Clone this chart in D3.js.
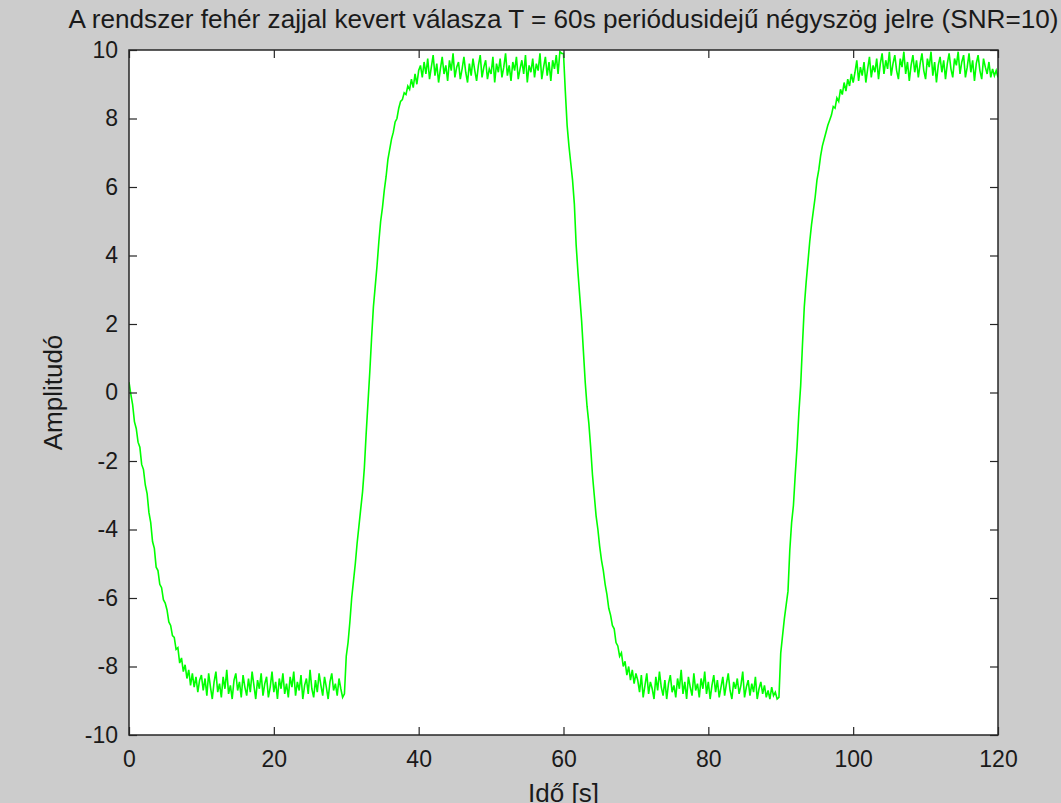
<!DOCTYPE html>
<html>
<head>
<meta charset="utf-8">
<script src="https://cdn.jsdelivr.net/npm/d3@7"></script>
<style>
  html, body { margin: 0; padding: 0; background: #cccccc; overflow: hidden; }
  text { font-family: "Liberation Sans", Arial, sans-serif; fill: #1a1a1a; }
</style>
</head>
<body>
<div id="chart"></div>
<script>
// chart texts
const titleText = "A rendszer fehér zajjal kevert válasza T = 60s periódusidejű négyszög jelre (SNR=10)";
const xLabel = "Idő [s]";
const yLabel = "Amplitudó";

// ticks
const xTicks = [0, 20, 40, 60, 80, 100, 120];
const yTicks = [-10, -8, -6, -4, -2, 0, 2, 4, 6, 8, 10];

// samples, every 0.25 s, one array per half period
const sampleStep = 0.25;
const segStarts = [0, 30, 60, 90];

// 0 .. 29.75 s : decay from 0.3 to the low level
const seg1 = [
  0.30, -0.05, -0.35, -0.85, -1.05, -1.45, -1.60, -2.10, -2.25, -2.70,
  -2.95, -3.50, -3.80, -4.35, -4.55, -5.10, -5.20, -5.60, -5.70, -6.05,
  -6.15, -6.35, -6.70, -6.80, -7.10, -7.15, -7.50, -7.45, -7.90, -7.75,
  -8.15, -7.95, -8.35, -8.10, -8.55, -8.20, -8.60, -8.30, -8.75, -8.40,
  -8.25,
  -8.70, -8.35, -8.85, -8.20, -8.60, -8.95, -8.45, -8.15, -8.75, -8.50,
  -8.90, -8.30, -8.65, -8.10, -8.80, -8.55, -8.95, -8.40, -8.20, -8.70,
  -8.45, -8.90, -8.25, -8.60, -8.85, -8.35, -8.75, -8.15, -8.55, -8.95,
  -8.40, -8.65, -8.20, -8.85, -8.50, -8.30, -8.90, -8.60, -8.15, -8.75,
  -8.45, -8.95, -8.35, -8.65, -8.20, -8.80, -8.50, -8.90, -8.30, -8.60,
  -8.15, -8.85, -8.45, -8.70, -8.25, -8.95, -8.55, -8.35, -8.80, -8.10,
  -8.65, -8.90, -8.40, -8.75, -8.20, -8.55, -8.85, -8.30, -8.60, -8.95,
  -8.45, -8.20, -8.70, -8.50, -8.85, -8.35, -8.65, -8.90, -8.80
];

// 30 .. 59.75 s : rise to the high level
const seg2 = [
  -7.70, -7.30, -6.70, -6.00, -5.50, -5.00, -4.40, -3.90, -3.40, -2.90,
  -2.20, -1.20, -0.30, 0.60, 1.60, 2.50, 3.10, 3.70, 4.40, 5.00,
  5.40, 5.90, 6.30, 6.80, 7.10, 7.40, 7.60, 7.90, 8.00, 8.30,
  8.50, 8.55, 8.75, 8.70, 8.95, 8.85, 9.15, 8.90, 9.30, 9.00,
  9.40,
  9.55, 9.20, 9.65, 9.30, 9.75, 9.15, 9.50, 9.85, 9.25, 9.60,
  9.05, 9.45, 9.80, 9.30, 9.55, 9.10, 9.70, 9.40, 9.90, 9.20,
  9.50, 9.65, 9.15, 9.45, 9.80, 9.35, 9.05, 9.60, 9.25, 9.75,
  9.40, 9.10, 9.55, 9.85, 9.20, 9.50, 9.70, 9.15, 9.45, 9.30,
  9.80, 9.05, 9.60, 9.35, 9.75, 9.20, 9.50, 9.90, 9.25, 9.55,
  9.10, 9.65, 9.40, 9.80, 9.15, 9.45, 9.70, 9.30, 9.85, 9.05,
  9.55, 9.35, 9.75, 9.20, 9.60, 9.40, 9.90, 9.15, 9.50, 9.80,
  9.25, 9.65, 9.10, 9.70, 9.45, 9.85, 9.30, 9.95, 9.90
];

// 60 .. 89.75 s : fall to the low level
const seg3 = [
  9.90, 8.80, 7.80, 7.20, 6.70, 6.20, 5.50, 4.30, 3.50, 2.80,
  2.10, 1.20, 0.30, -0.40, -0.90, -1.60, -2.40, -3.00, -3.60, -4.00,
  -4.50, -4.90, -5.20, -5.60, -5.90, -6.30, -6.50, -6.80, -6.90, -7.30,
  -7.40, -7.70, -7.60, -8.00, -7.85, -8.25, -8.00, -8.40, -8.10, -8.50,
  -8.20,
  -8.40, -8.75, -8.25, -8.90, -8.55, -8.20, -8.80, -8.45, -8.65, -8.95,
  -8.30, -8.70, -8.15, -8.60, -8.85, -8.40, -8.95, -8.50, -8.25, -8.75,
  -8.55, -8.90, -8.35, -8.65, -8.10, -8.80, -8.45, -8.95, -8.30, -8.60,
  -8.85, -8.20, -8.70, -8.50, -8.90, -8.35, -8.65, -8.15, -8.80, -8.45,
  -8.95, -8.55, -8.25, -8.75, -8.40, -8.90, -8.60, -8.30, -8.85, -8.50,
  -8.20, -8.70, -8.95, -8.45, -8.65, -8.35, -8.80, -8.55, -8.15, -8.90,
  -8.60, -8.40, -8.85, -8.50, -8.75, -8.30, -8.95, -8.65, -8.45, -8.80,
  -8.55, -8.90, -8.70, -8.95, -8.60, -8.85, -8.75, -8.95, -8.90
];

// 90 .. 120 s : rise to the high level
const seg4 = [
  -7.60, -7.10, -6.60, -6.20, -5.80, -4.60, -3.80, -3.30, -2.40, -1.60,
  -0.60, 0.20, 1.40, 2.50, 3.20, 3.80, 4.40, 4.90, 5.30, 5.70,
  6.20, 6.50, 6.90, 7.20, 7.40, 7.60, 7.80, 7.95, 8.10, 8.35,
  8.30, 8.60, 8.50, 8.85, 8.70, 9.05, 8.80, 9.15, 8.95, 9.30,
  9.05,
  9.35, 9.70, 9.10, 9.50, 9.25, 9.65, 9.05, 9.45, 9.80, 9.20,
  9.55, 9.35, 9.75, 9.15, 9.60, 9.90, 9.30, 9.70, 9.45, 9.95,
  9.25, 9.60, 9.85, 9.40, 9.15, 9.75, 9.50, 9.95, 9.30, 9.65,
  9.10, 9.55, 9.85, 9.35, 9.70, 9.20, 9.60, 9.90, 9.40, 9.15,
  9.75, 9.50, 9.95, 9.25, 9.65, 9.05, 9.55, 9.80, 9.35, 9.70,
  9.15, 9.60, 9.90, 9.45, 9.20, 9.75, 9.55, 9.95, 9.30, 9.65,
  9.85, 9.20, 9.50, 9.90, 9.35, 9.70, 9.10, 9.60, 9.85, 9.40,
  9.15, 9.75, 9.50, 9.30, 9.65, 9.20, 9.45, 9.25, 9.40, 9.20
];

const W = 1061, H = 803;
const margin = {top: 50, right: 63, bottom: 68, left: 129};
const width = W - margin.left - margin.right,   // 869
      height = H - margin.top - margin.bottom;  // 685

const svg = d3.select("#chart").append("svg")
    .attr("width", W)
    .attr("height", H)
    .style("display", "block");

svg.append("rect").attr("width", W).attr("height", H).attr("fill", "#cccccc");

const g = svg.append("g")
    .attr("transform", `translate(${margin.left},${margin.top})`);

// scales
const x = d3.scaleLinear().domain([0, 120]).range([0, width]);
const y = d3.scaleLinear().domain([-10, 10]).range([height, 0]);

// plot area
g.append("rect")
    .attr("width", width)
    .attr("height", height)
    .attr("fill", "#ffffff");

g.append("clipPath").attr("id", "clip")
  .append("rect").attr("width", width).attr("height", height);

// flatten the segments into points
const points = [];
[seg1, seg2, seg3, seg4].forEach((vals, k) => {
  vals.forEach((v, i) => points.push({t: segStarts[k] + i * sampleStep, v: v}));
});

const line = d3.line()
    .x(d => x(d.t))
    .y(d => y(d.v));

g.append("path")
    .datum(points)
    .attr("clip-path", "url(#clip)")
    .attr("d", line)
    .attr("fill", "none")
    .attr("stroke", "#00ff00")
    .attr("stroke-width", 1.6)
    .attr("stroke-linejoin", "miter");

// axes, ticks pointing inward like matlab, plain hyphen minus
const tickLen = 8;
const fmt = d => String(d);
const xBottom = g.append("g")
    .attr("transform", `translate(0,${height})`)
    .call(d3.axisBottom(x).tickValues(xTicks).tickSize(-tickLen).tickPadding(16).tickFormat(fmt));
const xTop = g.append("g")
    .call(d3.axisTop(x).tickValues(xTicks).tickSize(-tickLen).tickFormat(""));
const yLeft = g.append("g")
    .call(d3.axisLeft(y).tickValues(yTicks).tickSize(-tickLen).tickPadding(11).tickFormat(fmt));
const yRight = g.append("g")
    .attr("transform", `translate(${width},0)`)
    .call(d3.axisRight(y).tickValues(yTicks).tickSize(-tickLen).tickFormat(""));

[xBottom, xTop, yLeft, yRight].forEach(ax => {
  ax.select(".domain").remove();
  ax.selectAll(".tick line").attr("stroke", "#262626").attr("stroke-width", 1.2);
  ax.selectAll(".tick text")
      .attr("fill", "#1a1a1a")
      .style("font-size", "23px")
      .style("font-family", '"Liberation Sans", Arial, sans-serif');
});

// box
g.append("rect")
    .attr("width", width)
    .attr("height", height)
    .attr("fill", "none")
    .attr("stroke", "#262626")
    .attr("stroke-width", 1.5);

// title and labels
svg.append("text")
    .attr("x", margin.left + width / 2)
    .attr("y", 28)
    .attr("text-anchor", "middle")
    .style("font-size", "25px")
    .attr("textLength", 990)
    .attr("lengthAdjust", "spacingAndGlyphs")
    .text(titleText);

svg.append("text")
    .attr("x", margin.left + width / 2)
    .attr("y", 802)
    .attr("text-anchor", "middle")
    .style("font-size", "26px")
    .text(xLabel);

svg.append("text")
    .attr("transform", `translate(62,${margin.top + height / 2}) rotate(-90)`)
    .attr("text-anchor", "middle")
    .style("font-size", "26px")
    .text(yLabel);
</script>
</body>
</html>
